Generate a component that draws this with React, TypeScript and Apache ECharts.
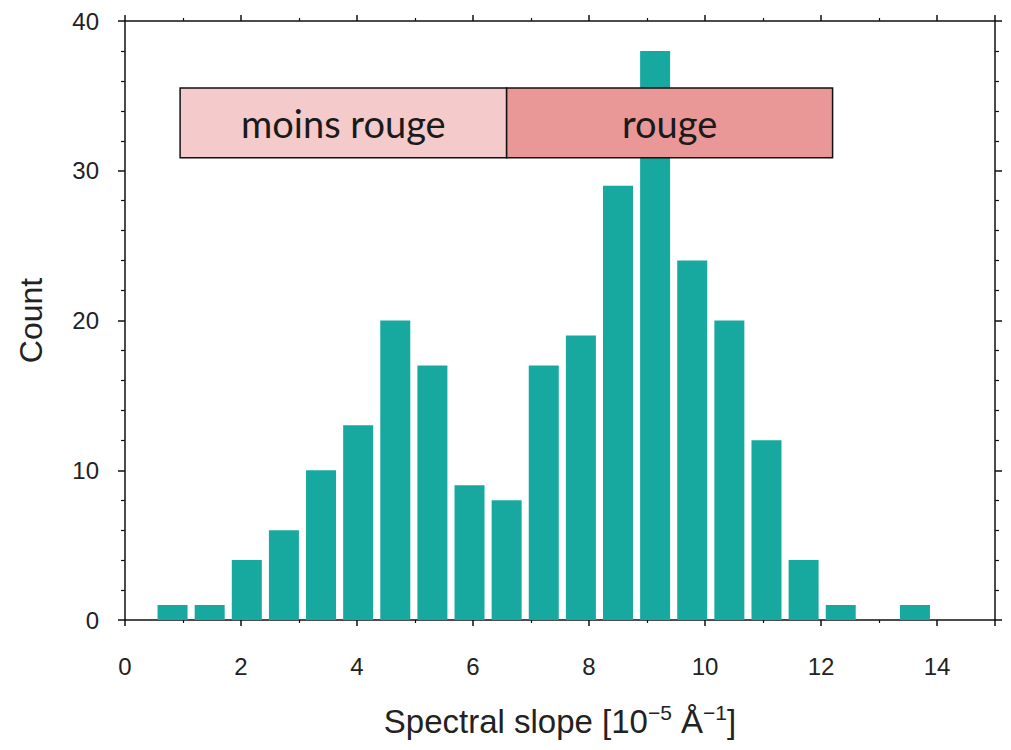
import React, { useEffect, useRef } from "react";
import * as echarts from "echarts";

// Histogram bins (centre of each bin, in 10^-5 Å^-1) and counts
const binCenters = [0.82, 1.46, 2.1, 2.74, 3.38, 4.02, 4.66, 5.3, 5.94, 6.58, 7.22, 7.86, 8.5, 9.14, 9.78, 10.42, 11.06, 11.7, 12.34, 12.98, 13.62];
const counts = [1, 1, 4, 6, 10, 13, 20, 17, 9, 8, 17, 19, 29, 38, 24, 20, 12, 4, 1, 0, 1];

// Annotation bands (data coordinates)
const bandLabels = ["moins rouge", "rouge"];
const bandStart = [0.95, 6.58];
const bandEnd = [6.58, 12.2];
const bandBottom = [30.87, 30.87];
const bandTop = [35.53, 35.53];
const bandColors = ["#f4caca", "#e99797"];

const xTicks = [0, 2, 4, 6, 8, 10, 12, 14];

const FONT = "Liberation Sans, Arial, sans-serif";

const App: React.FC = () => {
  const ref = useRef<HTMLDivElement>(null);
  useEffect(() => {
    if (!ref.current) return;
    const chart = echarts.init(ref.current, undefined, { renderer: "svg" });
    const axisLine = { show: true, onZero: false, lineStyle: { color: "#111", width: 1.5 } };
    const baseX = {
      type: "value" as const,
      min: 0,
      max: 15,
      interval: 2,
      splitLine: { show: false },
      axisLine,
      axisTick: { show: true, inside: false, length: 6, lineStyle: { color: "#111", width: 1.5 } },
      minorTick: { show: true, splitNumber: 2, length: 3, lineStyle: { color: "#111", width: 1.2 } },
    };
    const baseY = {
      type: "value" as const,
      min: 0,
      max: 40,
      interval: 10,
      splitLine: { show: false },
      axisLine,
      axisTick: { show: true, inside: false, length: 7, lineStyle: { color: "#111", width: 1.5 } },
      minorTick: { show: true, splitNumber: 5, length: 4, lineStyle: { color: "#111", width: 1.2 } },
    };
    chart.setOption({
      animation: false,
      backgroundColor: "#ffffff",
      grid: { left: 125, right: 16, top: 21, bottom: 130, containLabel: false, outerBoundsMode: "none" },
      xAxis: [
        {
          ...baseX,
          position: "bottom",
          axisLabel: {
            show: true,
            margin: 34,
            fontSize: 24,
            color: "#222",
            fontFamily: FONT,
            showMaxLabel: false,
            formatter: (v: number) => (xTicks.includes(v) ? String(v) : ""),
          },
          name: "Spectral slope [10{sup|−5} Å{sup|−1}]",
          nameLocation: "middle",
          nameGap: 82,
          nameTextStyle: {
            fontSize: 33,
            color: "#222",
            fontFamily: FONT,
            rich: {
              sup: { fontSize: 21, color: "#222", fontFamily: FONT, padding: [0, 0, 18, 0] },
            },
          },
        },
        { ...baseX, position: "top", axisLabel: { show: false } },
      ],
      yAxis: [
        {
          ...baseY,
          position: "left",
          axisLabel: { show: true, margin: 26, fontSize: 24, color: "#222", fontFamily: FONT },
          name: "Count",
          nameLocation: "middle",
          nameGap: 78,
          nameTextStyle: { fontSize: 32, color: "#222", fontFamily: FONT },
        },
        { ...baseY, position: "right", axisLabel: { show: false } },
      ],
      series: [
        {
          type: "bar",
          xAxisIndex: 0,
          yAxisIndex: 0,
          barWidth: 30,
          itemStyle: { color: "#17a8a0" },
          data: binCenters.map((x, i) => [x, counts[i]]),
          z: 2,
        },
        {
          type: "custom",
          xAxisIndex: 0,
          yAxisIndex: 0,
          z: 5,
          encode: { x: [0, 1], y: [2, 3] },
          data: bandLabels.map((l, i) => [bandStart[i], bandEnd[i], bandBottom[i], bandTop[i], l, i]),
          renderItem: (params: any, api: any) => {
            const x0 = api.value(0);
            const x1 = api.value(1);
            const y0 = api.value(2);
            const y1 = api.value(3);
            const idx = api.value(5);
            const p0 = api.coord([x0, y1]);
            const p1 = api.coord([x1, y0]);
            return {
              type: "group",
              children: [
                {
                  type: "rect",
                  shape: { x: p0[0], y: p0[1], width: p1[0] - p0[0], height: p1[1] - p0[1] },
                  style: { fill: bandColors[idx], stroke: "#111", lineWidth: 1.5 },
                },
                {
                  type: "text",
                  x: (p0[0] + p1[0]) / 2,
                  y: (p0[1] + p1[1]) / 2,
                  style: {
                    text: bandLabels[idx],
                    fontSize: 38,
                    fontFamily: "Lato, sans-serif",
                    fontWeight: "normal",
                    fill: "#1a1a1a",
                    align: "center",
                    verticalAlign: "middle",
                  },
                },
              ],
            };
          },
        },
      ],
    });
    return () => chart.dispose();
  }, []);
  return <div ref={ref} style={{ position: "fixed", left: 0, top: 0, width: 1011, height: 750, background: "#fff" }} />;
};

export default App;
